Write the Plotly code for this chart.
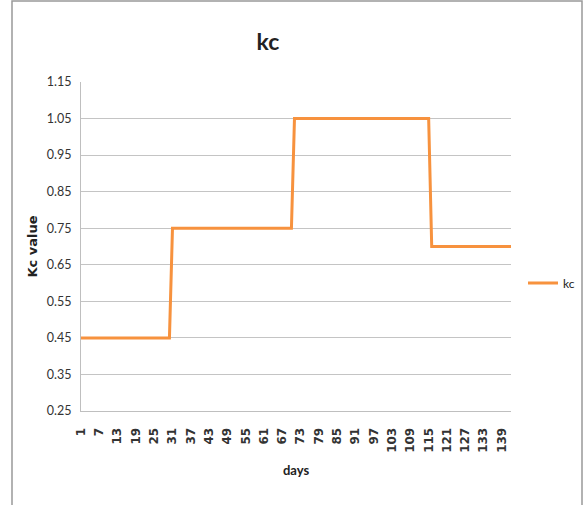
import plotly.graph_objects as go

# Data
days = [1, 30, 31, 70, 71, 115, 116, 142]
kc_values = [0.45, 0.45, 0.75, 0.75, 1.05, 1.05, 0.70, 0.70]
x_tick_days = [1, 7, 13, 19, 25, 31, 37, 43, 49, 55, 61, 67, 73, 79, 85, 91, 97,
               103, 109, 115, 121, 127, 133, 139]
y_ticks = [0.25, 0.35, 0.45, 0.55, 0.65, 0.75, 0.85, 0.95, 1.05, 1.15]

NARROW = "Lato, Liberation Sans, sans-serif"
WIDE = "DejaVu Sans, Verdana, sans-serif"

fig = go.Figure()
fig.add_trace(go.Scatter(
    x=days, y=kc_values, mode="lines", name="kc",
    line=dict(color="#F7923E", width=3),
))

L, R, T, B = 81, 73, 82, 94
W, H = 584, 505
pw, ph = W - L - R, H - T - B

fig.update_layout(
    width=W, height=H,
    margin=dict(l=L, r=R, t=T, b=B, autoexpand=False),
    paper_bgcolor="white", plot_bgcolor="white",
    title=dict(text="<b>kc</b>", x=268 / W, xanchor="center",
               y=1 - 42 / H, yanchor="middle",
               font=dict(family=NARROW, size=23, color="#222222")),
    showlegend=True,
    legend=dict(x=(523 - L) / pw, y=(411 - 283) / ph, xanchor="left", yanchor="middle",
                font=dict(family=NARROW, size=12, color="#222222"),
                bgcolor="rgba(0,0,0,0)", borderwidth=0, itemwidth=30),
    xaxis=dict(
        range=[1, 142], tickmode="array", tickvals=x_tick_days,
        ticktext=[str(d) for d in x_tick_days], tickangle=-90,
        tickfont=dict(family=WIDE, size=12, color="#333333", weight="bold"),
        showgrid=False, zeroline=False, showline=True, linecolor="#BFBFBF", linewidth=1,
        ticks="", ticklabelstandoff=11,
        title=dict(text="<b>days</b>", standoff=14,
                   font=dict(family=NARROW, size=13, color="#222222")),
    ),
    yaxis=dict(
        range=[0.25, 1.15], tickmode="array", tickvals=y_ticks,
        ticktext=[f"{v:.2f}" for v in y_ticks],
        tickfont=dict(family=NARROW, size=12.5, color="#333333"),
        showgrid=True, gridcolor="#C4C4C4", gridwidth=1,
        zeroline=False, showline=True, linecolor="#BFBFBF", linewidth=1,
        ticks="", ticklabelstandoff=6,
        title=dict(text="<b>Kc value</b>", standoff=6,
                   font=dict(family=WIDE, size=13, color="#222222")),
    ),
)

# outer chart frame (top, left, right edges visible)
fig.add_shape(type="rect", xref="paper", yref="paper",
              x0=(12 - L) / pw, x1=(582 - L) / pw,
              y0=(411 - 515) / ph, y1=(411 - 1) / ph,
              line=dict(color="#999999", width=1.5), fillcolor="rgba(0,0,0,0)",
              layer="below")

fig.write_html("out.html", config={"displayModeBar": False},
               post_script="document.body.style.margin='0';document.body.style.overflow='hidden';")
